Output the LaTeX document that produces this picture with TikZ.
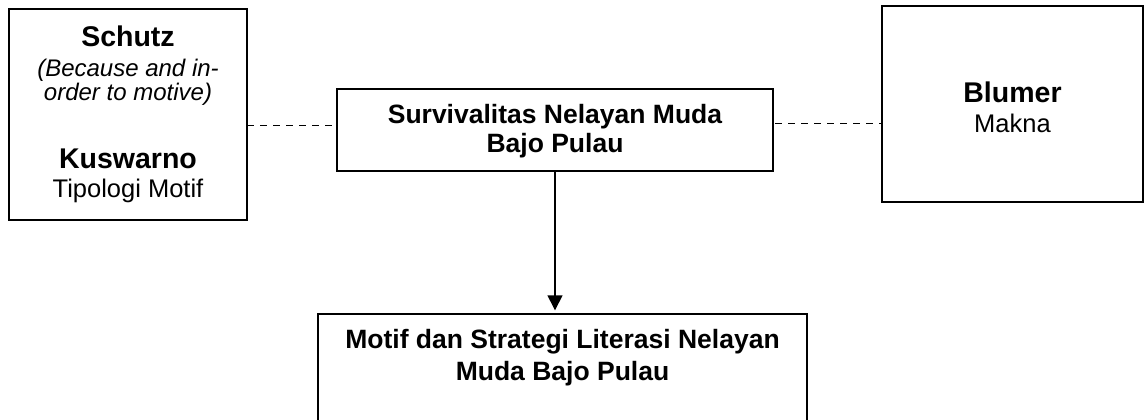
\documentclass[tikz,border=0pt]{standalone}
\usepackage{fontspec}
\setmainfont{Liberation Sans}
\usetikzlibrary{arrows.meta}
\begin{document}
\begin{tikzpicture}[x=1pt,y=-1pt,
  boxline/.style={draw=black,line width=1.4pt},
  txt/.style={anchor=base,inner sep=0pt,text=black},
  head/.style={txt,font=\fontsize{28.5}{30}\selectfont\bfseries},
  plain/.style={txt,font=\fontsize{25.5}{27}\selectfont},
  ital/.style={txt,font=\fontsize{24}{26}\selectfont\itshape},
  ctext/.style={txt,font=\fontsize{26.5}{28}\selectfont\bfseries},
  dashline/.style={draw=black,line width=1pt,dash pattern=on 7pt off 6pt},
  arrowline/.style={draw=black,line width=1.4pt,-{Triangle[width=15pt,length=15pt]}}
]
\useasboundingbox (0,0) rectangle (1148,420);
\clip (0,0) rectangle (1148,420);
\fill[white] (0,0) rectangle (1148,420);
% boxes
\node[boxline,rectangle,minimum width=238pt,minimum height=211pt,inner sep=0pt] (lbox) at (128,114.5) {};
\node[boxline,rectangle,minimum width=436pt,minimum height=82pt,inner sep=0pt] (cbox) at (555,130) {};
\node[boxline,rectangle,minimum width=261pt,minimum height=196pt,inner sep=0pt] (rbox) at (1012.5,104) {};
\node[boxline,rectangle,minimum width=489pt,minimum height=140pt,inner sep=0pt] (bbox) at (562.5,384) {};
% texts
\node[head] (schutz) at (128,47) {Schutz};
\node[ital] (because) at (128,77) {(Because and in-};
\node[ital] (order) at (128,100) {order to motive)};
\node[head] (kuswarno) at (128,168) {Kuswarno};
\node[plain] (tipologi) at (128,197) {Tipologi Motif};
\node[head] (blumer) at (1012.5,102) {Blumer};
\node[plain] (makna) at (1012.5,132) {Makna};
\node[ctext] (surv1) at (555,123) {Survivalitas Nelayan Muda};
\node[ctext] (surv2) at (555,152) {Bajo Pulau};
\node[ctext] (motif1) at (562.5,348) {Motif dan Strategi Literasi Nelayan};
\node[ctext] (motif2) at (562.5,380) {Muda Bajo Pulau};
% connectors
\coordinate (dl) at (247,125);
\coordinate (dr) at (775,123);
\draw[dashline] (dl) -- (cbox.west |- dl);
\draw[dashline] (dr) -- (rbox.west |- dr);
\draw[arrowline,shorten >=3pt] (cbox.south) -- (cbox.south |- bbox.north);
\end{tikzpicture}
\end{document}
